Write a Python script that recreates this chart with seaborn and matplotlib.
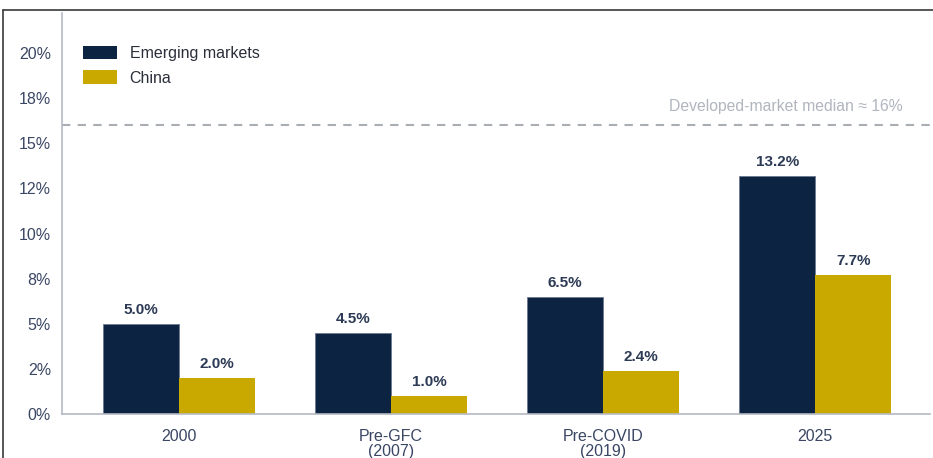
import numpy as np
import pandas as pd
import matplotlib
matplotlib.use("Agg")
import matplotlib.pyplot as plt
from matplotlib.lines import Line2D
import seaborn as sns

periods = ["2000", "Pre-GFC\n(2007)", "Pre-COVID\n(2019)", "2025"]
emerging = [5.0, 4.5, 6.5, 13.2]
china = [2.0, 1.0, 2.4, 7.7]
series_names = ["Emerging markets", "China"]
dm_median = 16.0
y_ticks = [0, 2.5, 5, 7.5, 10, 12.5, 15, 17.5, 20]

NAVY = "#0c2442"
GOLD = "#c9a900"
TEXT = "#3a4764"
SPINE = "#b4bac4"

df = pd.DataFrame({
    "period": periods * 2,
    "value": emerging + china,
    "series": [series_names[0]] * len(periods) + [series_names[1]] * len(periods),
})

sns.set_style("white")
plt.rcParams["font.family"] = ["Liberation Sans", "DejaVu Sans"]

fig = plt.figure(figsize=(9.33, 4.58), dpi=100)
ax = fig.add_axes([0.0665, 0.096, 0.930, 0.875])

sns.barplot(
    data=df, x="period", y="value", hue="series",
    palette=[NAVY, GOLD], width=0.717, gap=0, saturation=1,
    linewidth=0, ax=ax,
)
# thin slate outline on the navy bars only
for p in ax.containers[0].patches:
    p.set_edgecolor("#6b7890")
    p.set_linewidth(0.6)

for cont in ax.containers:
    ax.bar_label(cont, fmt="%.1f%%", padding=5, fontsize=11,
                 fontweight="bold", color="#2c3a55")

ax.axhline(dm_median, color="#a9adb4", linestyle=(0, (4, 3.5)), linewidth=1.5, zorder=0)
ax.text(0.969, dm_median + 0.6, "Developed-market median ≈ 16%",
        transform=ax.get_yaxis_transform(), ha="right", va="bottom",
        fontsize=11.3, color="#b0b5be")

ax.set_xlim(-0.552, 3.54)
ax.set_ylim(0, 22.2)
ax.set_yticks(y_ticks)
ax.set_yticklabels([f"{t:.0f}%" for t in y_ticks])
ax.set_xlabel("")
ax.set_ylabel("")

ax.tick_params(axis="both", colors=SPINE, labelcolor=TEXT, labelsize=11.5,
               length=4, width=1, direction="out")
ax.tick_params(axis="y", pad=4)
ax.tick_params(axis="x", pad=7)
for lab in ax.get_xticklabels():
    lab.set_linespacing(0.95)

for side in ["top", "right"]:
    ax.spines[side].set_visible(False)
for side in ["left", "bottom"]:
    ax.spines[side].set_color(SPINE)
    ax.spines[side].set_linewidth(1.2)

ax.legend(loc="upper left", bbox_to_anchor=(0.008, 0.955), frameon=False,
          fontsize=11.5, handlelength=2.1, handleheight=0.9,
          handletextpad=0.8, labelspacing=0.6, labelcolor="#2a2f3a")

# screenshot border
fig.add_artist(Line2D([0.003, 1.0], [0.978, 0.978], transform=fig.transFigure,
                      color="#3a3a3a", linewidth=1.2))
fig.add_artist(Line2D([0.0035, 0.0035], [0.0, 0.978], transform=fig.transFigure,
                      color="#3a3a3a", linewidth=1.2))

fig.savefig("out.png", dpi=100)
